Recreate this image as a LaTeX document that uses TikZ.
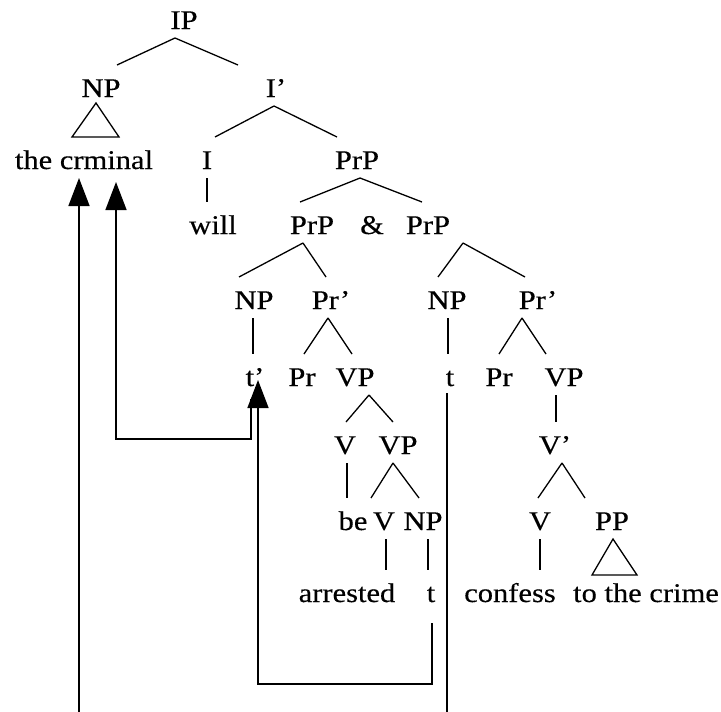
\documentclass[tikz,border=0pt]{standalone}
\usepackage{fontspec}
\setmainfont{Liberation Serif}[FakeStretch=1.13,FakeBold=0.4]
\usetikzlibrary{arrows.meta}
\begin{document}
\begin{tikzpicture}[x=1pt,y=-1pt,line width=1.3pt,
  lbl/.style={font=\fontsize{27}{31}\selectfont,inner sep=0pt,text height=18pt,text depth=0pt},
  mv/.style={line width=1.5pt,-{Triangle[width=21pt,length=28pt]}}]
\useasboundingbox (0,0) rectangle (721,712);
% labels of the tree
\foreach \n/\x/\y/\t in {IP/184/20/IP, NPa/101/88/NP, Ib/276/88/I',
  crim/84/160/the crminal, I/207/160/I, PrPa/357/160/PrP,
  will/213/225/will, PrPb/312/225/PrP, amp/372/225/\&, PrPc/428/225/PrP,
  NPb/254/300/NP, Prb/331/300/Pr', NPc/447/300/NP, Prc/538/300/Pr',
  tpr/255/377/t', Pr1/302/377/Pr, VPa/355/377/VP, tr/450/377/t, Pr2/499/377/Pr, VPb/564/377/VP,
  Va/345/445/V, VPc/398/445/VP, Vpr/555/445/V',
  be/353/521/be, Vb/384/521/V, NPd/423/521/NP, Vc/540/521/V, PP/612/521/PP,
  arr/347/593/arrested, ta/431/593/t, conf/510/593/confess, crime/646/593/to the crime}
\node[lbl] (\n) at (\x,\y) {\t};
% branches
\foreach \p/\c/\a/\b in {IP/NPa/-9/16, IP/Ib/-9/-38, Ib/I/-2/8, Ib/PrPa/-2/-20, I/will/0/-6,
  PrPa/PrPb/3/-12, PrPa/PrPc/3/-6, PrPb/NPb/-9/-15, PrPb/Prb/-9/-5,
  PrPc/NPc/35/-9, PrPc/Prc/35/-13, NPb/tpr/-1/-2, Prb/Pr1/-3/2, Prb/VPa/-3/-3,
  NPc/tr/1/-2, Prc/Pr2/-16/0, Prc/VPb/-16/-18, VPa/Va/14/1, VPa/VPc/14/-5,
  VPb/Vpr/-8/1, Va/be/2/-6, VPc/Vb/-5/-13, VPc/NPd/-5/-4, Vpr/Vc/7/-2, Vpr/PP/7/-27,
  Vb/arr/2/39, NPd/ta/5/-3, Vc/conf/0/30}
\draw ([shift={(\a,18)}]\p.center) -- ([shift={(\b,-23)}]\c.center);
% triangles
\draw ([shift={(-5,15)}]NPa.center) -- ([shift={(-29,49)}]NPa.center) -- ([shift={(18,49)}]NPa.center) -- cycle;
\draw ([shift={(1,18)}]PP.center) -- ([shift={(-20,54)}]PP.center) -- ([shift={(25,54)}]PP.center) -- cycle;
% movement
\coordinate (b1) at (79,712);
\coordinate (k2) at (116,439);
\coordinate (k3) at (258,684);
\coordinate (b4) at (447,712);
\draw[mv] (b1) -- ([shift={(-5,18)}]crim.center);
\draw[mv] ([shift={(-4,22)}]tpr.center) |- (k2) -- ([shift={(32,22)}]crim.center);
\draw[mv] ([shift={(1,30)}]ta.center) |- (k3) -- ([shift={(3,3)}]tpr.center);
\draw[line width=1.5pt] ([shift={(-3,16)}]tr.center) -- (b4);
\end{tikzpicture}
\end{document}
